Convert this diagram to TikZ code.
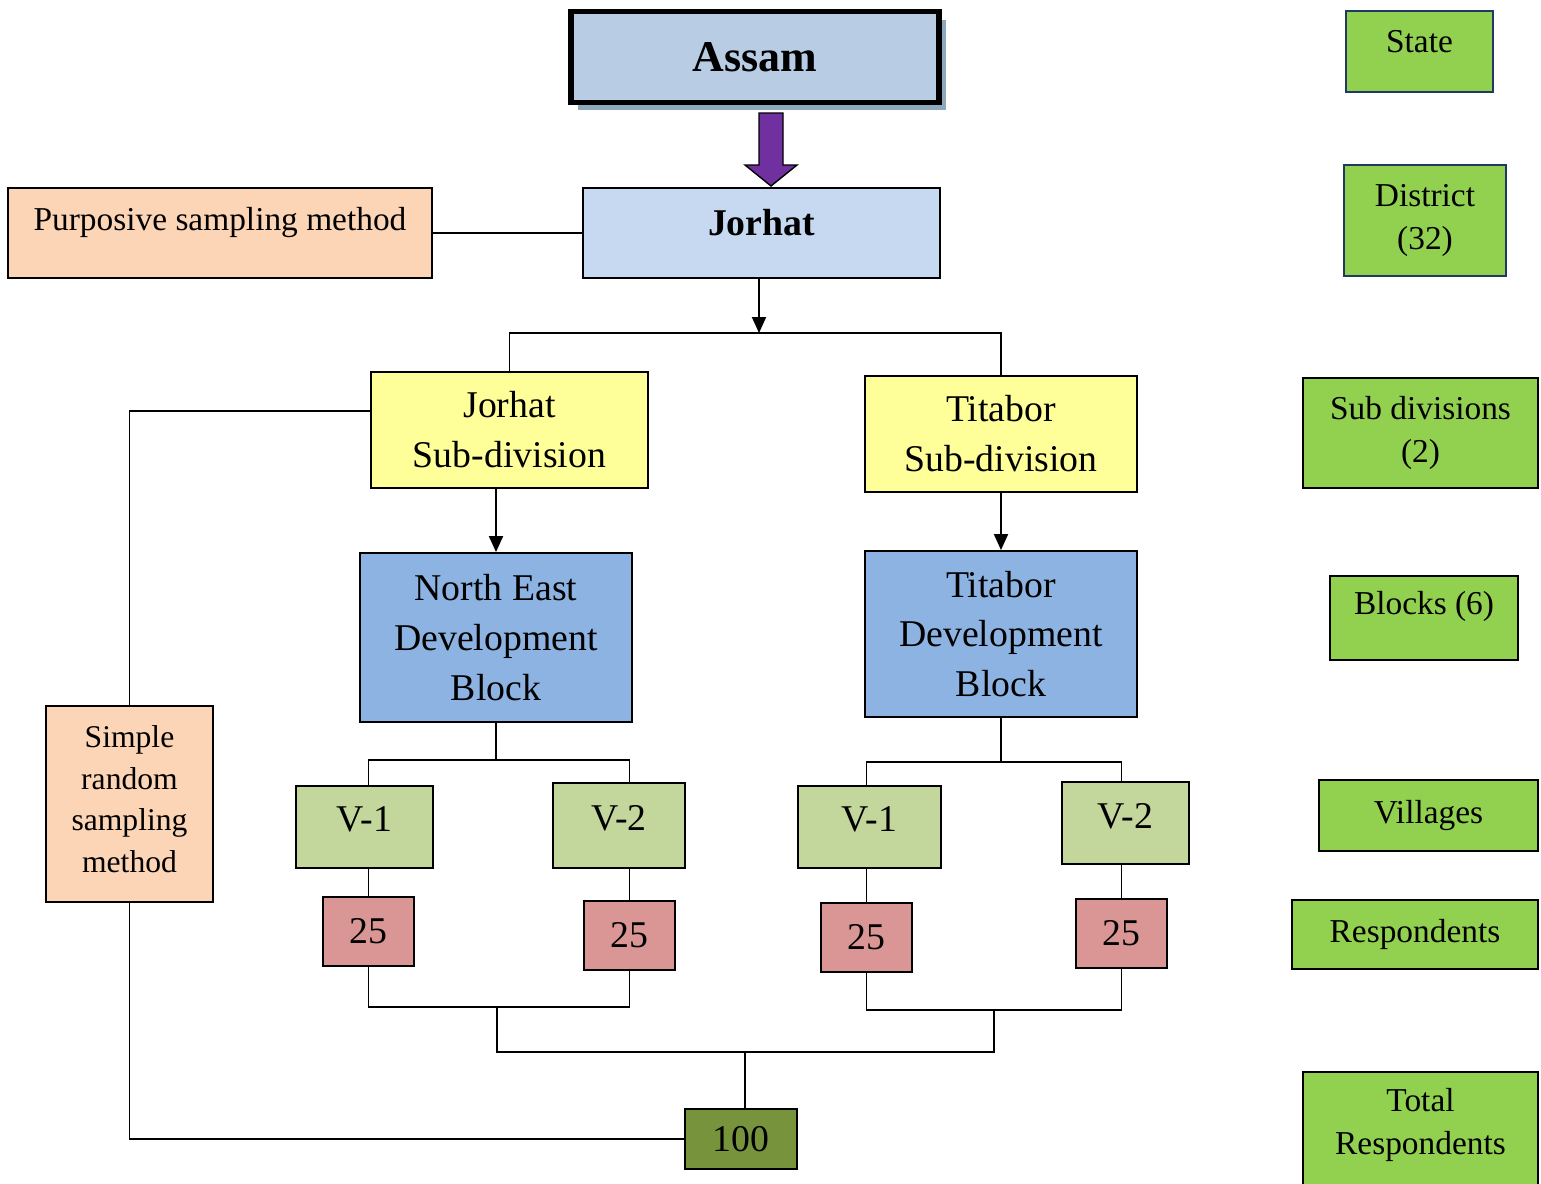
\documentclass[tikz,border=0pt]{standalone}
\usepackage{fontspec}
\setmainfont{Liberation Serif}
\usepackage{tikz}
\usetikzlibrary{arrows.meta, positioning, calc, shadows}

\definecolor{AssamBlue}{HTML}{B8CCE4}
\definecolor{ShadowBlue}{HTML}{8EA9BC}
\definecolor{JorhatBlue}{HTML}{C6D9F1}
\definecolor{PeachFill}{HTML}{FBD5B5}
\definecolor{SubYellow}{HTML}{FFFF99}
\definecolor{BlockBlue}{HTML}{8DB3E2}
\definecolor{VillageGreen}{HTML}{C3D69B}
\definecolor{CountRed}{HTML}{D99694}
\definecolor{TotalGreen}{HTML}{77933C}
\definecolor{LevelGreen}{HTML}{92D050}
\definecolor{ArrowPurple}{HTML}{7030A0}
\definecolor{NavyLine}{HTML}{1F3864}

\begin{document}
\begin{tikzpicture}[
    x=0.02cm, y=-0.02cm,
    line width=1.1pt,
    box/.style={rectangle, draw=black, line width=1.1pt, inner sep=0pt, align=center, text=black},
    region/.style={box, font=\fontsize{21.5}{28.4}\selectfont},
    method/.style={box, fill=PeachFill, font=\fontsize{19}{24}\selectfont},
    subdiv/.style={region, fill=SubYellow, minimum height=2.32cm},
    block/.style={region, fill=BlockBlue},
    village/.style={region, fill=VillageGreen, text depth=0.3cm},
    count/.style={region, fill=CountRed, minimum width=1.82cm, minimum height=1.38cm},
    level/.style={box, fill=LevelGreen, font=\fontsize{19}{24.4}\selectfont},
    arrow/.style={-{Triangle[length=0.32cm, width=0.28cm]}, line width=1.1pt}
    ]

    \useasboundingbox (0,0) rectangle (1541,1183);

    % Nodes
    \node[box, line width=3.4pt, fill=AssamBlue, minimum width=7.36cm, minimum height=1.82cm,
          font=\bfseries\fontsize{25}{30}\selectfont,
          general shadow={fill=ShadowBlue, shadow xshift=0.14cm, shadow yshift=-0.16cm}] (assam) at (755,57) {Assam};
    \node[box, fill=JorhatBlue, minimum width=7.14cm, minimum height=1.8cm, text depth=0.44cm,
          font=\bfseries\fontsize{21.5}{26}\selectfont] (jorhat) at (761.5,233) {Jorhat};
    \node[method, minimum width=8.48cm, minimum height=1.8cm, text depth=0.58cm] (purposive) at (220,233) {Purposive sampling method};

    \node[subdiv, minimum width=5.54cm] (jsub) at (509.5,430) {Jorhat\\Sub-division};
    \node[subdiv, minimum width=5.44cm] (tsub) at (1001,434) {Titabor\\Sub-division};

    \node[block, minimum width=5.44cm, minimum height=3.38cm] (neb) at (496,637.5) {North East\\Development\\Block};
    \node[block, minimum width=5.44cm, minimum height=3.32cm] (tdb) at (1001,634) {Titabor\\Development\\Block};

    \node[village, minimum width=2.74cm, minimum height=1.64cm] (v1a) at (364.5,827) {V-1};
    \node[village, minimum width=2.64cm, minimum height=1.7cm] (v2a) at (619,825.5) {V-2};
    \node[village, minimum width=2.86cm, minimum height=1.64cm] (v1b) at (869.5,827) {V-1};
    \node[village, minimum width=2.54cm, minimum height=1.64cm] (v2b) at (1125.5,823) {V-2};

    \node[count] (n1) at (368.5,931.5) {25};
    \node[count] (n2) at (629.5,935.5) {25};
    \node[count] (n3) at (866.5,937.5) {25};
    \node[count] (n4) at (1121.5,933.5) {25};

    \node[region, fill=TotalGreen, minimum width=2.24cm, minimum height=1.2cm] (total) at (741,1139) {100};

    \node[method, minimum width=3.34cm, minimum height=3.92cm, text depth=0.2cm,
          font=\fontsize{18}{23.6}\selectfont] (srs) at (129.5,804) {Simple\\random\\sampling\\method};

    % Levels
    \node[level, draw=NavyLine, minimum width=2.94cm, minimum height=1.62cm, text depth=0.4cm] (state) at (1419.5,51.5) {State};
    \node[level, draw=NavyLine, minimum width=3.24cm, minimum height=2.22cm] (district) at (1425,220.5) {District\\(32)};
    \node[level, minimum width=4.7cm, minimum height=2.2cm] (subdivs) at (1420.5,433) {Sub divisions\\(2)};
    \node[level, minimum width=3.76cm, minimum height=1.68cm, text depth=0.62cm] (blocks) at (1424,618) {Blocks (6)};
    \node[level, minimum width=4.38cm, minimum height=1.42cm] (villages) at (1428.5,815.5) {Villages};
    \node[level, minimum width=4.92cm, minimum height=1.38cm] (resp) at (1415,934.5) {Respondents};
    \node[level, minimum width=4.7cm, minimum height=2.46cm, text depth=0.48cm] (totresp) at (1420.5,1133.5) {Total\\Respondents};

    % Block arrow
    \draw[fill=ArrowPurple, line width=0.8pt] (759,113) -- (783,113) -- (783,165) -- (797,165)
        -- (771,186) -- (745,165) -- (759,165) -- cycle;

    % Edges
    \coordinate (split) at (759,333);
    \draw (purposive) -- (jorhat);
    \draw[arrow] (jorhat.south -| split) -- (split);
    \draw (jsub.north) |- (split) -| (tsub.north);
    \draw[arrow] (jsub.south -| neb.north) -- (neb.north);
    \draw[arrow] (tsub.south -| tdb.north) -- (tdb.north);

    \draw (neb.south) -- ++(0,37) coordinate (nbus);
    \draw (v1a.north -| n1) |- (nbus) -| (v2a.north -| n2);
    \draw (tdb.south) -- ++(0,44) coordinate (tbus2);
    \draw (v1b.north -| n3) |- (tbus2) -| (v2b.north -| n4);

    \draw (v1a.south -| n1) -- (n1.north);
    \draw (v2a.south -| n2) -- (n2.north);
    \draw (v1b.south -| n3) -- (n3.north);
    \draw (v2b.south -| n4) -- (n4.north);

    \draw (n1.south) -- ++(0,40) -| (n2.south);
    \draw (n3.south) -- ++(0,37) -| (n4.south);

    \coordinate (lsum) at (497,1006);
    \coordinate (rsum) at (994,1009);
    \coordinate (tbus) at (745,1052);
    \draw (lsum) |- (tbus) -| (rsum);
    \draw (tbus) -- (tbus |- total.north);

    \draw ([yshift=0.38cm]jsub.west) -| (srs.north);
    \draw (srs.south) |- (total.west);
\end{tikzpicture}
\end{document}
